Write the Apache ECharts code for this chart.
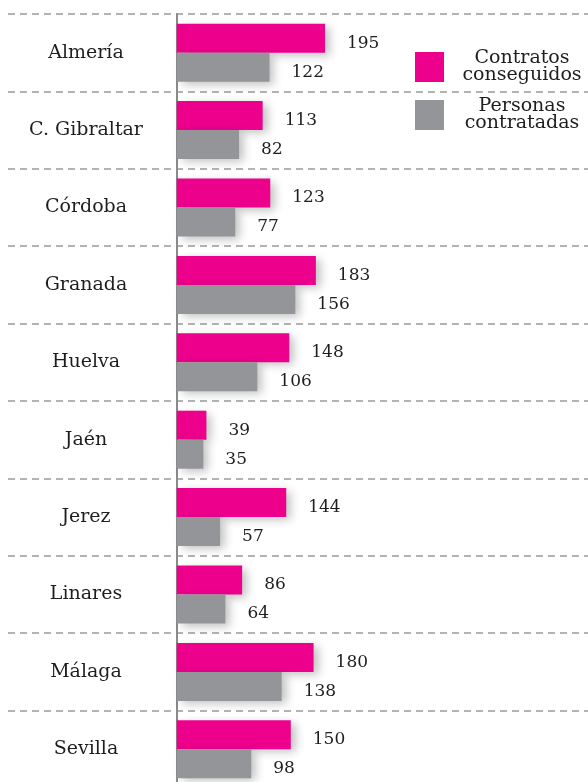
<!DOCTYPE html>
<html>
<head>
<meta charset="utf-8">
<script src="https://cdn.jsdelivr.net/npm/echarts@6/dist/echarts.min.js"></script>
<style>
  html, body { margin: 0; padding: 0; background: #fff; }
  #chart { width: 588px; height: 782px; }
</style>
</head>
<body>
<div id="chart"></div>
<script>
const categories = ['Almería', 'C. Gibraltar', 'Córdoba', 'Granada', 'Huelva', 'Jaén', 'Jerez', 'Linares', 'Málaga', 'Sevilla'];
const contratos = [195, 113, 123, 183, 148, 39, 144, 86, 180, 150];
const personas = [122, 82, 77, 156, 106, 35, 57, 64, 138, 98];

const serif = '"DejaVu Serif", "Liberation Serif", serif';
const shadow = { shadowColor: 'rgba(0,0,0,0.25)', shadowBlur: 9, shadowOffsetX: 5, shadowOffsetY: 3 };

const chart = echarts.init(document.getElementById('chart'));

const valueLabel = {
  show: true,
  position: 'right',
  distance: 22,
  offset: [0, 5],
  fontFamily: serif,
  fontSize: 17,
  color: '#1e1e1e'
};

chart.setOption({
  animation: false,
  grid: { left: 8, top: 14, width: 580, height: 774, containLabel: false, outerBoundsMode: 'none' },
  legend: {
    orient: 'vertical',
    left: 410,
    top: 44,
    itemWidth: 29,
    itemHeight: 30,
    itemGap: 12,
    icon: 'rect',
    formatter: (name) => name.split(' ').map((w) => '{a|' + w + '}').join('\n'),
    textStyle: {
      rich: {
        a: { width: 146, align: 'center', fontFamily: serif, fontSize: 19, lineHeight: 17, color: '#1e1e1e' }
      }
    }
  },
  xAxis: { type: 'value', min: -222, max: 541, show: false },
  yAxis: {
    type: 'category',
    data: categories,
    inverse: true,
    axisLine: { onZero: true, lineStyle: { color: '#8a8a8a', width: 2 } },
    axisTick: { show: false },
    axisLabel: { margin: -78, align: 'center', fontFamily: serif, fontSize: 19, color: '#1e1e1e' },
    splitLine: { show: true, lineStyle: { type: [7, 5], color: '#9a9a9a', width: 1.5 } }
  },
  series: [
    {
      name: 'Contratos conseguidos',
      type: 'bar',
      data: contratos,
      barWidth: 29,
      barGap: '0%',
      itemStyle: Object.assign({ color: '#ec008c' }, shadow),
      label: valueLabel
    },
    {
      name: 'Personas contratadas',
      type: 'bar',
      data: personas,
      barWidth: 29,
      itemStyle: Object.assign({ color: '#939598' }, shadow),
      label: valueLabel
    }
  ]
});
</script>
</body>
</html>
